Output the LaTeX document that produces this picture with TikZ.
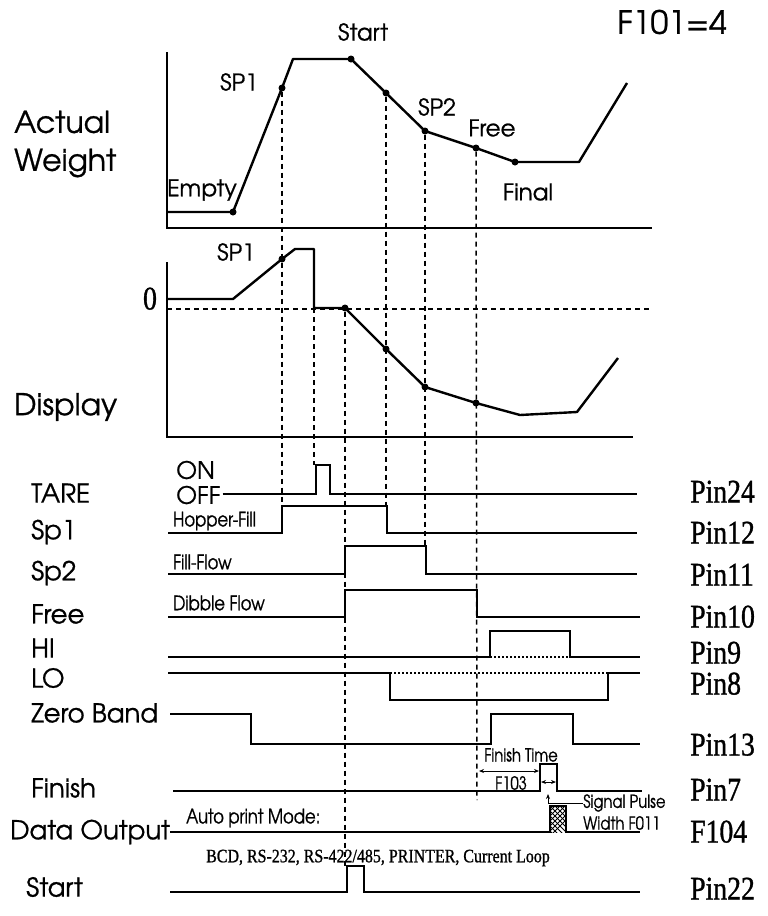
\documentclass[tikz,border=0pt]{standalone}
\usepackage{fontspec}
\setmainfont[FakeBold=0.8]{TeX Gyre Adventor}
\newfontfamily\narrowsans[FakeStretch=0.82, FakeBold=0.8]{TeX Gyre Adventor}
\newfontfamily\pinfont[FakeStretch=0.84, FakeBold=1]{Liberation Serif}
\usetikzlibrary{arrows.meta}

\begin{document}
\begin{tikzpicture}[
    x=1pt, y=-1pt,
    >={Stealth[length=5pt, width=4pt]},
    % Styles
    axis/.style={line width=1.6pt},
    curve/.style={line width=2.4pt, line join=round},
    sig/.style={line width=1.7pt},
    guide/.style={line width=1.5pt, dash pattern=on 5pt off 4pt},
    faint/.style={line width=1.3pt, dash pattern=on 1.5pt off 2.5pt},
    dot/.style={circle, fill, inner sep=0pt, minimum size=7pt},
    biglabel/.style={font=\fontsize{30}{38}\selectfont, anchor=west, inner sep=0pt, align=left},
    siglabel/.style={font=\fontsize{26}{30}\selectfont, anchor=west, inner sep=0pt},
    ptlabel/.style={font=\fontsize{23}{26}\selectfont, inner sep=0pt},
    note/.style={font=\narrowsans\fontsize{20}{22}\selectfont, inner sep=0pt, anchor=west},
    tiny/.style={font=\narrowsans\fontsize{18}{20}\selectfont, inner sep=0pt},
    pin/.style={font=\pinfont\fontsize{33}{35}\selectfont, anchor=west, inner sep=0pt,
        text height=21pt, text depth=0pt}
]
    \useasboundingbox (0,0) rectangle (768,916);

    % --- Actual Weight graph ---
    \node [biglabel] (wlabel) at (14,144) {Actual\\Weight};
    \node [ptlabel, font=\fontsize{32}{34}\selectfont] (fmode) at (672,22) {F101=4};
    \draw [axis] (167,52) -- (167,228) -- (652,228);

    \node [dot] (wsp1) at (282,88) {};
    \node [dot] (wstart) at (351,59) {};
    \node [dot] (wmid) at (386,93) {};
    \node [dot] (wsp2) at (425,131) {};
    \node [dot] (wfree) at (476,148) {};
    \node [dot] (wfinal) at (515,162) {};
    \node [dot] (wempty) at (233,212) {};
    \draw [curve] (168,212) -- (wempty.center) -- (wsp1.center) -- (293,59)
        -- (wstart.center) -- (wmid.center) -- (wsp2.center) -- (wfree.center)
        -- (wfinal.center) -- (579,162) -- (627,83);

    \node [ptlabel] (tstart) at (363,32) {Start};
    \node [ptlabel] (tsp1) at (239,82) {SP1};
    \node [ptlabel] (tsp2) at (437,107) {SP2};
    \node [ptlabel] (tfree) at (492,128) {Free};
    \node [ptlabel] (tfinal) at (528,192) {Final};
    \node [ptlabel] (tempty) at (202,190) {Empty};

    % --- Display graph ---
    \node [biglabel] (dlabel) at (14,407) {Display};
    \node [pin, anchor=center] (zero) at (150,299) {0};
    \draw [axis] (167,262) -- (167,437) -- (633,437);
    \draw [guide] (167,309) -- (650,309);

    \node [dot] (dsp1) at (282,259) {};
    \node [dot] (dzero) at (345,308) {};
    \node [dot] (dmid) at (386,349) {};
    \node [dot] (dsp2) at (425,387) {};
    \node [dot] (dfree) at (476,403) {};
    \draw [curve] (168,299) -- (233,299) -- (dsp1.center) -- (295,249) -- (314,249)
        -- (314,308) -- (dzero.center) -- (dmid.center) -- (dsp2.center)
        -- (dfree.center) -- (520,415) -- (577,412) -- (618,358);
    \node [ptlabel] (dtsp1) at (236,252) {SP1};

    % --- Guide lines ---
    \draw [guide] (wsp1) -- (282,506);
    \draw [guide] (314,308) -- (314,465);
    \draw [guide] (dzero) -- (345,866);
    \draw [guide] (wmid) -- (386,506);
    \draw [guide] (wsp2) -- (425,546);
    \draw [guide] (wfree) -- (477,800);

    % --- Signal lines ---
    \node [siglabel] (ltare) at (31,493) {TARE};
    \node [note, font=\fontsize{24}{26}\selectfont] (ton) at (176,470) {ON};
    \node [note, font=\fontsize{24}{26}\selectfont] (toff) at (176,495) {OFF};
    \draw [sig] (toff.east) ++(2,-1) -- (316,494) -- (316,465) -- (330,465) -- (330,494) -- (637,494);
    \node [pin] (p24) at (690,492) {Pin24};

    \node [siglabel] (lsp1) at (31,532) {Sp1};
    \node [note] (thopper) at (173,521) {Hopper-Fill};
    \draw [sig] (168,533) -- (282,533) -- (282,506) -- (387,506) -- (387,533) -- (637,533);
    \node [pin] (p12) at (690,533) {Pin12};

    \node [siglabel] (lsp2) at (31,573) {Sp2};
    \node [note] (tfill) at (173,562) {Fill-Flow};
    \draw [sig] (168,574) -- (345,574) -- (345,546) -- (426,546) -- (426,574) -- (637,574);
    \node [pin] (p11) at (690,575) {Pin11};

    \node [siglabel] (lfree) at (31,614) {Free};
    \node [note] (tdibble) at (173,603) {Dibble Flow};
    \draw [sig] (168,617) -- (345,617) -- (345,590) -- (477,590) -- (477,617) -- (640,617);
    \node [pin] (p10) at (690,617) {Pin10};

    \node [siglabel] (lhi) at (31,648) {HI};
    \draw [sig] (168,657) -- (490,657) -- (490,631) -- (570,631) -- (570,657) -- (640,657);
    \draw [faint] (490,657) -- (570,657);
    \node [pin] (p9) at (690,653) {Pin9};

    \node [siglabel] (llo) at (31,678) {LO};
    \draw [sig] (168,673) -- (390,673) -- (390,700) -- (608,700) -- (608,673) -- (640,673);
    \draw [faint] (390,673) -- (608,673);
    \node [pin] (p8) at (690,684) {Pin8};

    \node [siglabel] (lzero) at (31,713) {Zero Band};
    \draw [sig] (lzero.east) ++(12,1) -- (251,714) -- (251,744) -- (491,744) -- (491,714)
        -- (573,714) -- (573,744) -- (640,744);
    \node [pin] (p13) at (690,745) {Pin13};

    \node [siglabel] (lfinish) at (31,788) {Finish};
    \draw [sig] (173,791) -- (540,791) -- (540,764) -- (557,764) -- (557,791) -- (642,791);
    \node [pin] (p7) at (690,790) {Pin7};
    \node [tiny] (tfintime) at (521,755) {Finish Time};
    \coordinate (f103a) at (479,771);
    \coordinate (f103b) at (539,771);
    \draw [<->, line width=1pt] (f103a) -- (f103b);
    \node [tiny] (tf103) at (511,783) {F103};
    \draw [<->, line width=1pt] (541,782) -- (556,782);

    \node [siglabel] (ldata) at (10,832) {Data Output};
    \node [tiny, anchor=west] (tpulse) at (583,803) {Signal Pulse};
    \node [tiny, anchor=west] (twidth) at (583,823) {Width F011};
    \draw [->, line width=1pt] (tpulse.west) -- (548,803) -- (548,794);
    \node [note] (tauto) at (186,818) {Auto print Mode:};
    \draw [sig] (ldata.east) -- (550,832) -- (550,806) -- (566,806) -- (566,832) -- (640,832);
    \begin{scope}
        \clip (550,806) rectangle (566,832);
        \foreach \k in {-20,-15,...,30} {
            \draw [line width=0.8pt] (550,806+\k) -- ++(16,16);
            \draw [line width=0.8pt] (550,806+\k) -- ++(16,-16);
        }
    \end{scope}
    \node [pin] (p104) at (690,832) {F104};
    \node [font=\pinfont\fontsize{19}{21}\selectfont, inner sep=0pt] (tbcd) at (378,858)
        {BCD, RS-232, RS-422/485, PRINTER, Current Loop};

    \node [siglabel] (lstart) at (26,887) {Start};
    \draw [sig] (170,892) -- (347,892) -- (347,866) -- (364,866) -- (364,892) -- (640,892);
    \node [pin] (p22) at (690,889) {Pin22};

\end{tikzpicture}
\end{document}
